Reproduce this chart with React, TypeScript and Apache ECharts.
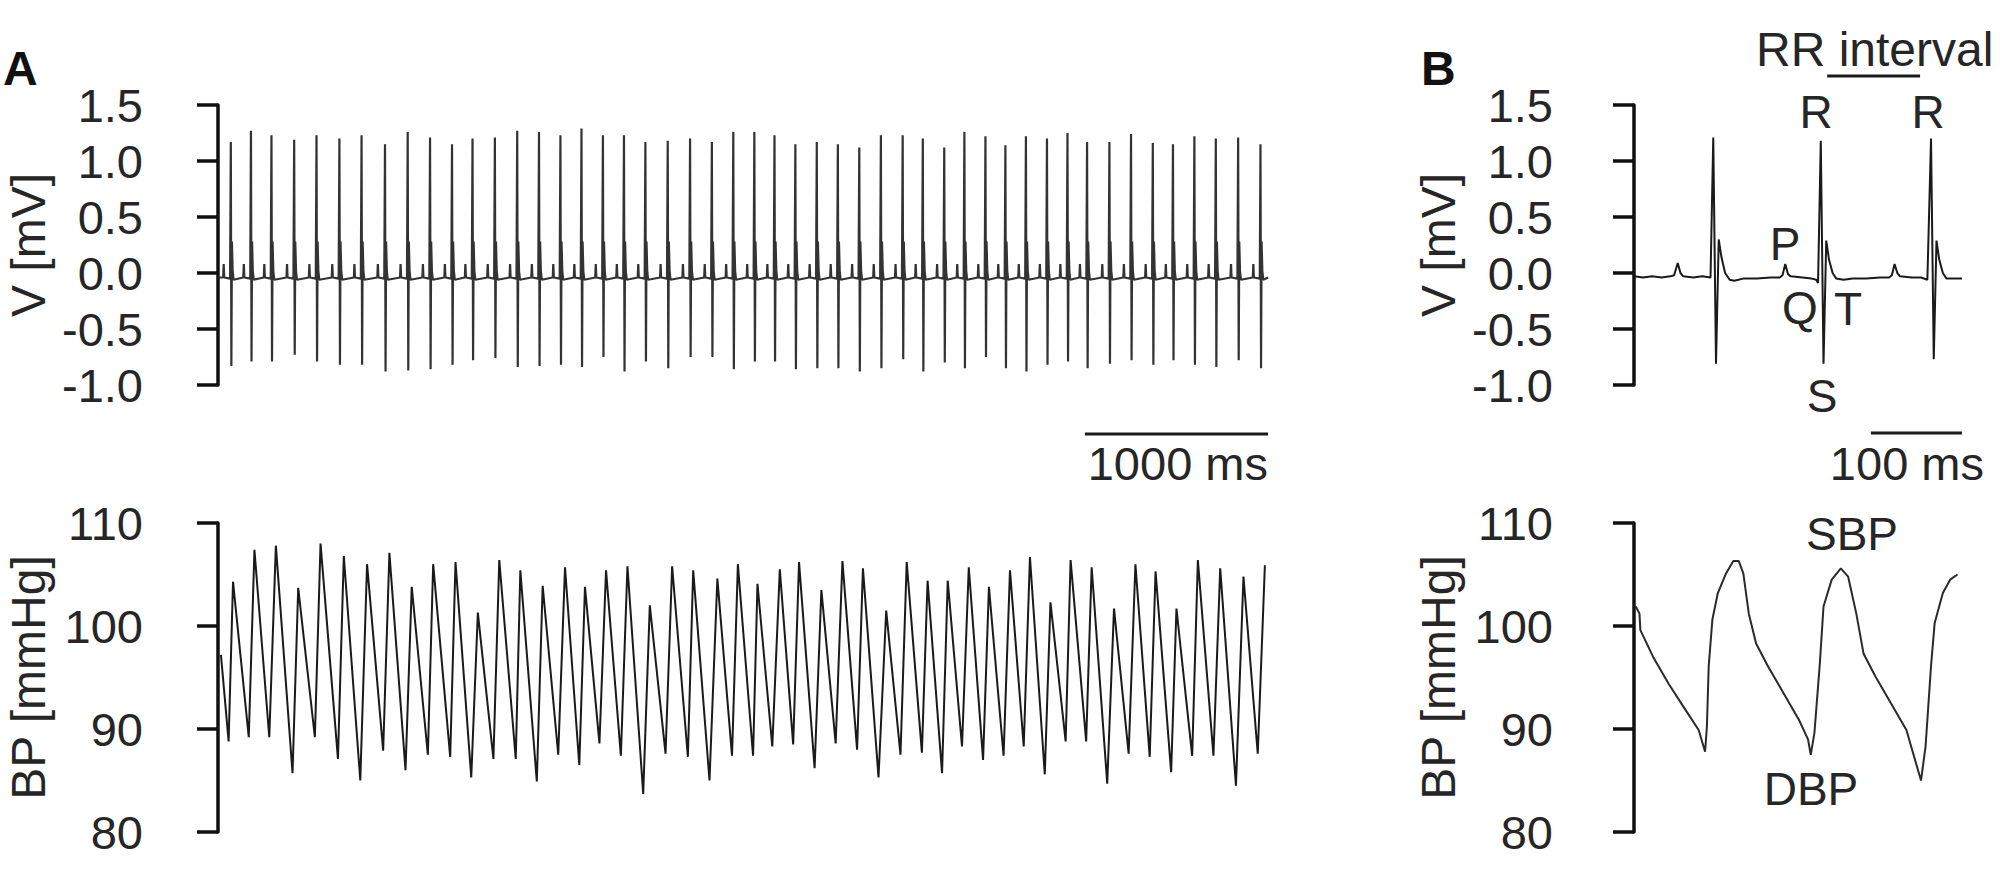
import React, { useEffect, useRef } from "react";
import * as echarts from "echarts";

// ---------- Panel A : ECG (R-peak times in ms, R and S amplitudes in mV) ----------
const ecgBeatTimesA = [70, 180, 292, 416, 538, 663, 784, 912, 1036, 1158, 1278, 1390, 1512, 1634, 1753, 1870, 1985, 2102, 2217, 2334, 2456, 2578, 2697, 2814, 2929, 3039, 3153, 3270, 3385, 3502, 3620, 3739, 3849, 3966, 4076, 4191, 4300, 4412, 4527, 4639, 4746, 4868, 4986, 5105, 5215, 5332, 5449, 5571, 5693];
const ecgRPeaksA = [1.17, 1.27, 1.23, 1.19, 1.23, 1.2, 1.23, 1.15, 1.26, 1.21, 1.15, 1.2, 1.21, 1.27, 1.26, 1.23, 1.29, 1.23, 1.23, 1.17, 1.18, 1.2, 1.17, 1.26, 1.26, 1.23, 1.15, 1.17, 1.15, 1.12, 1.23, 1.23, 1.2, 1.12, 1.26, 1.22, 1.14, 1.22, 1.2, 1.25, 1.17, 1.17, 1.24, 1.16, 1.15, 1.22, 1.2, 1.21, 1.15];
const ecgSTroughsA = [-0.83, -0.79, -0.79, -0.73, -0.79, -0.82, -0.82, -0.88, -0.87, -0.86, -0.82, -0.78, -0.76, -0.84, -0.83, -0.82, -0.84, -0.75, -0.88, -0.79, -0.85, -0.75, -0.75, -0.86, -0.79, -0.79, -0.86, -0.85, -0.85, -0.88, -0.85, -0.77, -0.88, -0.8, -0.85, -0.75, -0.85, -0.88, -0.82, -0.79, -0.85, -0.81, -0.78, -0.82, -0.78, -0.82, -0.84, -0.78, -0.85];
// beat shape around each R peak
const ecgPreOffsets = [-42, -39, -36, -4];
const ecgPreValues = [-0.04, 0.08, -0.04, -0.05];
const ecgSOffset = 3;
const ecgPostOffsets = [6, 10, 15];
const ecgPostValues = [0.28, 0.02, -0.06];
const ecgStartA = 0;
const ecgEndA = 5734;
const ecgBaselineA = -0.04;

// ---------- Panel A : blood pressure (alternating troughs / peaks) ----------
const bpTimesA = [16, 58, 82, 168, 199, 280, 316, 407, 438, 529, 560, 655, 687, 777, 814, 902, 936, 1024, 1058, 1146, 1175, 1268, 1297, 1383, 1419, 1504, 1536, 1626, 1651, 1741, 1773, 1858, 1895, 1973, 2004, 2083, 2119, 2200, 2236, 2322, 2358, 2444, 2480, 2566, 2595, 2684, 2727, 2807, 2839, 2922, 2946, 3027, 3068, 3141, 3173, 3258, 3295, 3373, 3410, 3490, 3522, 3607, 3649, 3727, 3761, 3844, 3875, 3954, 3985, 4063, 4100, 4178, 4210, 4290, 4325, 4400, 4434, 4515, 4546, 4629, 4656, 4741, 4771, 4856, 4893, 4973, 5010, 5088, 5120, 5205, 5234, 5320, 5351, 5436, 5473, 5559, 5600, 5678, 5717];
const bpValuesA = [97.2, 88.8, 104.3, 89.2, 107.4, 89.2, 107.8, 85.7, 103.7, 89.2, 108.0, 87.1, 106.8, 85.0, 106.0, 87.9, 107.1, 86.0, 103.8, 87.5, 106.0, 87.3, 106.2, 85.3, 101.3, 87.1, 106.4, 87.1, 105.4, 84.9, 103.9, 87.5, 105.7, 86.5, 103.8, 88.6, 105.4, 87.4, 105.8, 83.7, 102.0, 87.6, 105.8, 87.3, 105.4, 85.0, 104.6, 87.4, 106.0, 87.4, 104.1, 88.3, 105.5, 88.5, 106.2, 86.2, 103.5, 88.6, 106.3, 88.0, 105.6, 85.3, 101.5, 87.5, 106.2, 87.7, 104.4, 85.7, 104.4, 88.3, 105.7, 87.0, 103.8, 87.4, 105.4, 88.3, 106.7, 85.6, 102.3, 88.8, 106.4, 88.8, 105.7, 84.7, 101.7, 87.6, 106.0, 87.3, 105.3, 85.8, 101.7, 87.4, 106.4, 87.4, 105.6, 84.5, 104.8, 87.6, 105.9];

// ---------- Panel B : ECG detail ----------
const ecgTimesB = [0, 10, 20, 30, 40, 44, 48, 51, 54, 65, 75, 84, 87, 90, 93, 96, 100, 105, 110, 120, 135, 150, 160, 163, 166, 169, 172, 185, 195, 200, 202, 205, 208, 211, 214, 218, 222, 230, 240, 255, 270, 280, 283, 286, 289, 292, 305, 315, 322, 326, 329, 332, 335, 339, 343, 350, 360];
const ecgValuesB = [-0.03, -0.04, -0.03, -0.04, -0.03, -0.02, 0.09, 0.0, -0.03, -0.04, -0.03, -0.04, 1.21, -0.81, 0.3, 0.14, 0.0, -0.06, -0.07, -0.05, -0.05, -0.04, -0.04, -0.02, 0.08, -0.01, -0.03, -0.04, -0.05, -0.06, -0.09, 1.18, -0.81, 0.29, 0.12, 0.0, -0.05, -0.06, -0.05, -0.05, -0.04, -0.04, -0.02, 0.08, 0.0, -0.03, -0.04, -0.04, -0.06, 1.2, -0.77, 0.29, 0.12, 0.0, -0.05, -0.05, -0.05];

// ---------- Panel B : blood pressure detail ----------
const bpTimesB = [2, 6, 7, 21, 38, 54, 71, 78, 80, 82, 86, 92, 101, 109, 115, 120, 126, 134, 147, 164, 181, 191, 194, 198, 204, 208, 217, 227, 235, 244, 252, 265, 282, 299, 315, 320, 326, 330, 339, 347, 355];
const bpValuesB = [101.9, 101.2, 99.6, 97.0, 94.4, 92.2, 89.9, 87.8, 90.2, 96.1, 100.6, 103.2, 105.1, 106.3, 106.3, 105.1, 101.2, 98.3, 96.1, 93.5, 90.9, 89.0, 87.5, 89.6, 96.4, 101.9, 104.5, 105.6, 104.8, 101.2, 97.3, 95.1, 92.5, 89.9, 85.0, 88.3, 96.1, 100.3, 103.2, 104.5, 105.0];

// ---------- axes / scale bars ----------
const ecgTicks = { min: -1.0, max: 1.5, interval: 0.5 };
const bpTicks = { min: 80, max: 110, interval: 10 };
const xRangeA = { min: 0, max: 5734 };
const xRangeB = { min: 0, max: 360 };
const scaleBarA = [4734, 5734];
const scaleBarB = [260, 360];
const rrBar = [212, 314];

const FONT = "'Liberation Sans', Arial, Helvetica, sans-serif";
const TEXT = "#262626";
const INK = "#111111";

function buildEcgA(): number[][] {
  const pts: number[][] = [[ecgStartA, ecgBaselineA]];
  ecgBeatTimesA.forEach((t, i) => {
    ecgPreOffsets.forEach((o, k) => pts.push([t + o, ecgPreValues[k]]));
    pts.push([t, ecgRPeaksA[i]]);
    pts.push([t + ecgSOffset, ecgSTroughsA[i]]);
    ecgPostOffsets.forEach((o, k) => pts.push([t + o, ecgPostValues[k]]));
  });
  pts.push([ecgEndA, ecgBaselineA]);
  return pts;
}
const zip = (a: number[], b: number[]) => a.map((x, i) => [x, b[i]]);

function yAxisCfg(gridIndex: number, ticks: any, name: string, offset: number, dec: number) {
  return {
    type: "value",
    gridIndex,
    position: "left",
    offset,
    min: ticks.min,
    max: ticks.max,
    interval: ticks.interval,
    name,
    nameLocation: "middle",
    nameRotate: 90,
    nameGap: 130,
    nameMoveOverlap: false,
    nameTextStyle: { fontSize: 48, color: TEXT, fontFamily: FONT },
    axisLine: { show: true, lineStyle: { color: INK, width: 3.5 } },
    axisTick: { show: true, inside: false, length: 21, lineStyle: { color: INK, width: 3.5 } },
    axisLabel: {
      fontSize: 47,
      color: TEXT,
      fontFamily: FONT,
      margin: 39,
      formatter: (v: number) => v.toFixed(dec),
    },
    splitLine: { show: false },
  };
}
function xAxisCfg(gridIndex: number, r: any) {
  return { type: "value", gridIndex, min: r.min, max: r.max, show: false, splitLine: { show: false } };
}

export default function App() {
  const ref = useRef<HTMLDivElement>(null);
  useEffect(() => {
    if (!ref.current) return;
    const chart = echarts.init(ref.current, undefined, { renderer: "svg" });
    const lineSeries = (idx: number, data: number[][], color: string, width: number) => ({
      type: "line",
      xAxisIndex: idx,
      yAxisIndex: idx,
      data,
      showSymbol: false,
      symbol: "none",
      smooth: false,
      silent: true,
      lineStyle: { color, width },
    });
    chart.setOption({
      animation: false,
      backgroundColor: "#ffffff",
      grid: [
        { left: 218, top: 105, width: 1050, height: 280, outerBoundsMode: "none" },
        { left: 218, top: 523, width: 1050, height: 309, outerBoundsMode: "none" },
        { left: 1634, top: 105, width: 328, height: 280, outerBoundsMode: "none" },
        { left: 1634, top: 523, width: 328, height: 309, outerBoundsMode: "none" },
      ],
      xAxis: [xAxisCfg(0, xRangeA), xAxisCfg(1, xRangeA), xAxisCfg(2, xRangeB), xAxisCfg(3, xRangeB)],
      yAxis: [
        yAxisCfg(0, ecgTicks, "V [mV]", 36, 1),
        yAxisCfg(1, bpTicks, "BP [mmHg]", 36, 0),
        yAxisCfg(2, ecgTicks, "V [mV]", 42, 1),
        yAxisCfg(3, bpTicks, "BP [mmHg]", 42, 0),
      ],
      series: [
        lineSeries(0, buildEcgA(), "#333333", 2.2),
        lineSeries(1, zip(bpTimesA, bpValuesA), "#1a1a1a", 2),
        lineSeries(2, zip(ecgTimesB, ecgValuesB), "#1a1a1a", 2),
        lineSeries(3, zip(bpTimesB, bpValuesB), "#2a2a2a", 2),
      ],
    });

    const px = (g: number, t: number) => (chart.convertToPixel({ gridIndex: g } as any, [t, 0]) as number[])[0];
    const txt = (text: string, x: number, y: number, align: string, size = 47, weight = "normal", color = TEXT) => ({
      type: "text",
      x,
      y,
      silent: true,
      style: { text, fill: color, font: `${weight} ${size}px ${FONT}`, align, verticalAlign: "middle" },
    });
    const bar = (x1: number, x2: number, y: number) => ({
      type: "line",
      silent: true,
      shape: { x1, y1: y, x2, y2: y },
      style: { stroke: "#1a1a1a", lineWidth: 3 },
    });
    const aBar0 = px(0, scaleBarA[0]);
    const aBar1 = px(0, scaleBarA[1]);
    const bBar0 = px(2, scaleBarB[0]);
    const bBar1 = px(2, scaleBarB[1]);
    const rr0 = px(2, rrBar[0]);
    const rr1 = px(2, rrBar[1]);
    chart.setOption({
      graphic: [
        txt("A", 3, 68, "left", 48, "bold", "#111"),
        txt("B", 1421, 68, "left", 48, "bold", "#111"),
        bar(aBar0, aBar1, 434),
        txt("1000 ms", aBar1, 463, "right"),
        bar(bBar0, bBar1, 433),
        txt("100 ms", bBar1 + 22, 463, "right"),
        bar(rr0, rr1, 76),
        txt("RR interval", 1756, 49, "left", 48),
        txt("R", 1816, 112, "center", 46),
        txt("R", 1928, 112, "center", 46),
        txt("P", 1785, 244, "center", 46),
        txt("Q", 1800, 308, "center", 46),
        txt("T", 1848, 309, "center", 46),
        txt("S", 1822, 396, "center", 46),
        txt("SBP", 1852, 534, "center", 46),
        txt("DBP", 1811, 789, "center", 46),
      ],
    });
    return () => chart.dispose();
  }, []);
  return (
    <div
      ref={ref}
      style={{ position: "absolute", left: 0, top: 0, width: 2000, height: 881, background: "#fff" }}
    />
  );
}
